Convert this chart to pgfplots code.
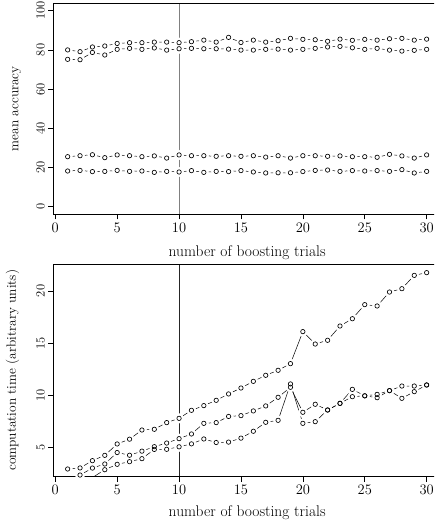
\documentclass[border=0pt]{standalone}
\usepackage{fontspec}
\usepackage{pgfplots}
\usepackage{pgfplotstable}
\pgfplotsset{compat=1.18}

% mean accuracy, four runs
\pgfplotstableread{
x a b c d
1 80.0 75.2 25.5 18.2
2 79.1 75.0 26.0 18.5
3 81.5 78.7 26.5 17.9
4 82.0 77.4 25.0 18.0
5 83.3 80.3 26.4 18.5
6 83.7 80.8 26.0 18.0
7 83.7 80.3 25.5 18.2
8 84.0 81.0 25.9 17.5
9 84.0 79.9 24.8 18.0
10 83.7 80.6 26.4 17.7
11 84.2 80.8 26.0 18.4
12 85.0 80.6 26.0 17.5
13 84.0 80.6 25.7 18.0
14 86.4 80.4 26.0 17.9
15 83.8 79.9 25.7 18.4
16 85.0 79.9 26.0 17.7
17 84.0 80.3 25.3 17.2
18 84.7 80.4 26.0 17.3
19 85.9 79.9 24.8 17.3
20 85.4 80.3 26.0 17.9
21 85.2 80.8 26.0 18.5
22 84.4 81.5 25.7 18.7
23 85.5 81.8 25.9 18.0
24 84.9 81.1 25.5 18.4
25 85.4 80.3 25.5 18.2
26 85.0 80.8 25.2 18.4
27 85.7 79.9 26.7 18.0
28 85.9 79.4 25.9 18.9
29 85.0 79.8 24.8 17.2
30 85.5 80.3 26.4 18.0
}\acctable

% computation time
\pgfplotstableread{
x e f g
1 2.92 1.8 1.5
2 3.02 2.34 1.9
3 3.72 3.01 2.1
4 4.23 3.40 2.85
5 5.32 4.50 3.37
6 5.78 4.24 3.62
7 6.66 4.63 3.91
8 6.73 5.06 4.80
9 7.37 5.41 4.81
10 7.78 5.83 5.05
11 8.55 6.28 5.33
12 9.00 7.30 5.80
13 9.51 7.37 5.46
14 10.12 7.96 5.50
15 10.69 8.04 5.88
16 11.33 8.49 6.54
17 11.91 8.97 7.40
18 12.39 9.80 7.59
19 13.03 10.76 11.08
20 16.10 8.36 7.30
21 14.91 9.13 7.46
22 15.27 8.58 8.58
23 16.64 9.22 9.22
24 17.34 10.56 9.86
25 18.69 9.94 9.94
26 18.56 10.08 9.76
27 19.90 10.44 10.44
28 20.22 10.88 9.70
29 21.50 10.88 10.34
30 21.76 10.98 10.98
}\timetable

\pgfplotsset{
  rplot/.style={
    scale only axis,
    width=387.7pt,
    xmin=-0.16, xmax=31.16,
    axis line style={line width=0.6pt},
    tick style={line width=0.6pt, black},
    tick align=outside, tick pos=left,
    major tick length=5pt,
    xtick={0,5,...,30},
    xlabel={number of boosting trials},
    /pgf/number format/assume math mode=true,
    xticklabel style={font=\fontsize{14.5}{16}\selectfont},
    yticklabel style={font=\fontsize{12.5}{14}\selectfont, rotate=90, anchor=south},
    xlabel style={font=\fontsize{15.5}{18}\selectfont, anchor=center},
    ylabel style={font=\fontsize{13.4}{16}\selectfont, anchor=center},
    axis on top,
  },
  seg/.style={black, line width=0.5pt, mark=none},
  halo/.style={white, only marks, mark=*, mark size=4.8pt, mark options={white}},
  pts/.style={black, only marks, mark=o, mark size=2.2pt, mark options={black, line width=0.65pt}},
}

\begin{document}
\begin{tikzpicture}
\useasboundingbox (0,0) rectangle (434pt,525pt);
\clip (0,0) rectangle (434pt,525pt);

\begin{axis}[rplot,
    at={(53.3pt,310.5pt)}, anchor=south west,
    height=211.6pt,
    ymin=-4, ymax=104,
    ytick={0,20,...,100},
    ylabel={mean accuracy},
    xlabel style={at={(axis description cs:0.5,-0.179)}},
    ylabel style={at={(axis description cs:-0.0944,0.5)}},
]
\foreach \c in {a,b,c,d} {\addplot[seg] table[x=x, y=\c] {\acctable};}
\foreach \c in {a,b,c,d} {\addplot[halo] table[x=x, y=\c] {\acctable};}
\foreach \c in {a,b,c,d} {\addplot[pts] table[x=x, y=\c] {\acctable};}
\addplot[gray, line width=0.9pt] coordinates {(10,-4) (10,104)};
\end{axis}

\begin{axis}[rplot,
    at={(53.3pt,48.3pt)}, anchor=south west,
    height=212.7pt,
    ymin=2.18, ymax=22.59,
    ytick={5,10,15,20},
    ylabel={computation time (arbitrary units)},
    xlabel style={at={(axis description cs:0.5,-0.167)}},
    ylabel style={at={(axis description cs:-0.105,0.5)}},
]
\foreach \c in {e,f,g} {\addplot[seg] table[x=x, y=\c] {\timetable};}
\foreach \c in {e,f,g} {\addplot[halo] table[x=x, y=\c] {\timetable};}
\foreach \c in {e,f,g} {\addplot[pts] table[x=x, y=\c] {\timetable};}
\addplot[black!85, line width=0.6pt] coordinates {(10,2.18) (10,22.59)};
\end{axis}
\end{tikzpicture}
\end{document}
